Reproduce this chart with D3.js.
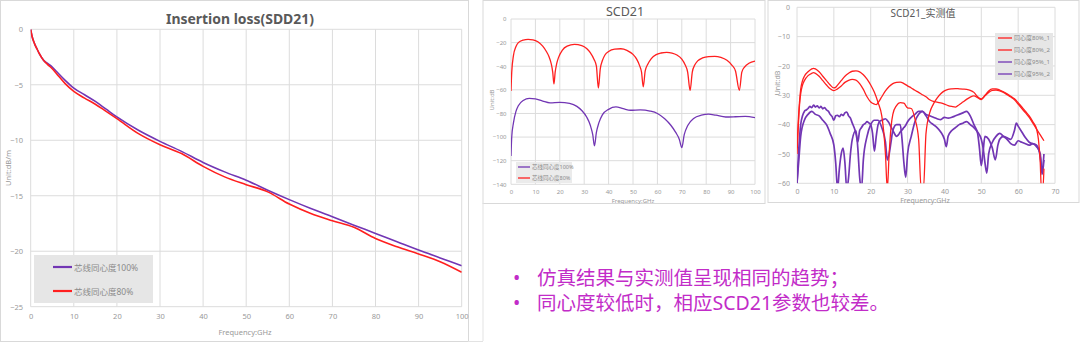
<!DOCTYPE html>
<html><head><meta charset="utf-8">
<script src="https://cdn.jsdelivr.net/npm/d3@7"></script>
<style>
html,body{margin:0;padding:0;background:#fff;}
svg{display:block;}
text{font-family:"Noto Sans","Noto Sans CJK SC",sans-serif;}
</style></head>
<body>
<svg id="c" width="1080" height="343"></svg>
<script>
// ---------- Chart 1: Insertion loss (SDD21) ----------
const sddFreq = [0,0.3,0.7,1,1.5,2,3,4,5,6,8,10,12.5,15,17.5,20,25,30,35,40,45,50,55,60,65,70,75,80,85,90,95,100];
const sdd100  = [0,-0.6,-1.1,-1.4,-1.8,-2.2,-2.8,-3.1,-3.4,-3.8,-4.6,-5.3,-5.9,-6.5,-7.2,-7.9,-9.1,-10.1,-11.0,-12.0,-12.85,-13.6,-14.5,-15.35,-16.15,-16.9,-17.65,-18.4,-19.15,-19.9,-20.6,-21.3];
const sdd80   = [0,-0.6,-1.1,-1.4,-1.8,-2.2,-2.8,-3.2,-3.55,-4.0,-4.9,-5.6,-6.2,-6.75,-7.4,-8.05,-9.4,-10.4,-11.2,-12.35,-13.3,-14.0,-14.65,-15.75,-16.6,-17.25,-17.85,-18.85,-19.6,-20.25,-20.95,-21.9];
const sddXTicks = [0,10,20,30,40,50,60,70,80,90,100];
const sddYTicks = [0,-5,-10,-15,-20,-25];
const sddNames = ["芯线同心度100%","芯线同心度80%"];

// ---------- Chart 2: SCD21 (simulation) ----------
const scd80Freq = [0,0.3,1,2,3,5,7,9,11,13,14.5,15.5,16.5,17.1,17.6,18.1,18.7,19.5,21,23,26,29,31,32.5,34,35,35.8,36.6,37.5,38.5,40,42.5,45,47.5,50,51.5,52.7,53.5,54.2,55,56,57.5,59.5,61.5,63.8,66,68,70,71.3,72.4,73.4,74.3,75.3,76.5,78.5,81,83.5,86,88.5,90.5,92,93.6,94.6,95.8,97.5,100];
const scd80Val  = [-61,-45,-31,-23.5,-20,-17.8,-17.2,-17.6,-19.3,-23,-27.5,-31.5,-38,-45,-55,-45,-38,-32.5,-26.5,-23,-21.5,-22.5,-25,-28.5,-34,-40,-58.5,-42,-35,-30.5,-27.5,-25.5,-25.2,-26.5,-30,-34,-39.5,-45,-57.5,-44,-38.5,-33.5,-30.2,-28.8,-28.2,-28.8,-30.5,-34,-38.5,-45,-60.5,-45,-39,-35.5,-33,-31.8,-31.6,-32.5,-35,-39,-44,-60.5,-45,-40.5,-37.5,-35.6];
const scd100Freq = [0,0.3,1,2,3,5,7.5,10,13,16,20,24,27,29,31,32.5,33.5,34.2,35,36,37.5,40,43,46,49,53,57,60,63,65.5,67.5,69,70,71,72.5,75,78,81,84,88,92,96,100];
const scd100Val  = [-116,-100,-88,-78.5,-73.5,-69,-67.3,-67.6,-69.5,-71,-70.6,-71.5,-74,-77.5,-83,-90,-98,-107.5,-96,-88,-81,-76.5,-74.5,-76,-77.3,-77,-78,-80,-84.5,-90,-96,-102,-109,-98,-90,-84,-81.5,-80.5,-81.5,-83,-82.8,-82.5,-83.5];
const scdXTicks = [0,10,20,30,40,50,60,70,80,90,100];
const scdYTicks = [0,-20,-40,-60,-80,-100,-120,-140];

// ---------- Chart 3: SCD21 measured ----------
const m80aFreq = [0,0.3,0.7,1,1.5,2,3,4,4.5,5,6,7,8,9,10,10.5,11,12,13,14,15,16,17,18,19,20,21,22,23,23.5,24,24.5,25,25.5,26,27,28,29,30,31,32,33,33.7,34.3,35,36,37,38,39,40,41,42,43,44,45,46,47,48,49,50,51,52,53,54,55,56,57,58,59,60,61,62,63,64,65,65.5,66,66.3,66.7,67];
const m80aVal  = [-48,-40,-32,-28,-25,-23.5,-22,-21,-20.8,-21,-22,-23.5,-25,-26.5,-27.5,-27.3,-26.5,-25,-23.5,-22.5,-21.8,-21.7,-22,-23,-24.5,-26.5,-29,-32.5,-37,-42,-50,-62,-50,-41,-36.5,-33.5,-32.5,-32.7,-34.3,-34.5,-38,-45,-62,-62,-43,-36,-33,-31,-29.5,-28.5,-28,-27.8,-27.7,-27.8,-27.9,-28,-28.3,-29,-30.5,-31.2,-30,-28.5,-27.8,-27.8,-28.2,-28.8,-29.5,-30.3,-31.2,-32.5,-34,-35.5,-37,-39,-41.5,-45,-53,-62,-62,-55];
const m80bFreq = [0,0.3,0.7,1,1.5,2,3,4,4.5,5,6,7,8,9,10,11,12,13,14,15,16,17,18,19,20,21,21.5,22,23,24,25,26,27,28,29,30,31,32,33,34,35,36,37,38,39,40,41,42,43,44,45,46,47,48,49,50,51,52,53,54,55,56,57,58,59,60,61,62,63,64,65,66,67];
const m80bVal  = [-50,-42,-33,-29.5,-26.5,-25,-23.3,-22.5,-22.3,-22.5,-23.5,-25,-26.5,-27.8,-28.4,-27.8,-26.8,-25.6,-24.9,-24.6,-24.8,-26,-28,-30.5,-32.3,-33,-33.2,-32.5,-30.5,-28.5,-27,-26,-25.6,-25.5,-26,-26.8,-27.5,-28.3,-29,-29.8,-30.5,-31.5,-32.1,-32.3,-32.6,-33,-33.5,-33.8,-34,-33.2,-32.3,-31.4,-30.6,-30.2,-30.8,-31.5,-30.2,-29,-28.3,-28.2,-28.5,-29,-29.8,-30.6,-31.5,-33,-34.5,-36,-37.5,-39.5,-41.5,-43.5,-45.5];
const m95aFreq = [0,0.5,1,1.5,2,2.5,3,3.5,4,4.5,5,5.5,6,6.5,7,7.5,8,8.5,9,9.5,10,10.5,11,11.5,12,12.5,13,13.5,14,14.5,15,15.5,16,16.5,17,17.5,18,18.5,19,19.5,20,20.5,21,21.5,22,22.5,23,23.5,24,24.5,25,25.5,26,26.5,27,27.5,28,28.5,29,29.5,30,31,32,33,34,35,36,37,38,39,40,41,42,43,44,45,46,47,48,49,49.5,50,50.5,51,52,53,53.8,54.5,55,56,57,58,59,59.5,60,61,62,63,64,65,66,66.5,67];
const m95aVal  = [-60,-48,-40,-37,-35.5,-35,-34.5,-33.8,-34.2,-33.3,-34,-33.6,-34.3,-33.8,-34.6,-34.2,-35,-35.4,-36.5,-37.2,-38.5,-37,-36.8,-37.3,-36.5,-36.9,-36,-35.7,-37,-37.8,-39.5,-41,-43,-46,-42,-41,-40,-39.6,-39,-39.4,-40,-43,-49,-44,-40,-38.8,-38.5,-38.2,-38,-38.6,-39.5,-40.8,-42,-43.2,-44,-43.5,-42.5,-41.8,-41,-40.2,-39,-37.5,-36.5,-35.5,-35.5,-36.5,-37,-37.5,-38,-38.3,-37.5,-37.8,-37.5,-37,-36.5,-36,-35.5,-37,-40,-43,-48,-54,-49,-44,-45,-48,-52,-47,-45,-44,-44.5,-45,-42,-39.5,-40.5,-42.5,-44.5,-46,-46.5,-47,-51,-56,-50];
const m95bFreq = [0,0.5,1,2,3,4,5,6,7,8,9,10,10.5,11,11.5,12,12.5,13,13.5,14,14.5,15,16,16.5,17,17.5,18,19,20,21,22,23,24,24.5,25,25.5,26,27,28,28.5,29,29.5,30,31,32,33,34,35,36,37,38,39,40,40.5,41,42,43,44,45,46,47,48,49,50,50.5,51,51.5,52,53,54,55,56,57,58,59,60,61,62,63,64,65,66,66.5,67];
const m95bVal  = [-60,-52,-44,-38.5,-36.5,-35.5,-36.5,-37,-38.5,-40,-43,-47,-53,-62,-55,-50,-48,-53,-62,-58,-50,-45,-42,-48,-58,-62,-52,-44,-40,-38.5,-38.5,-41,-46,-52,-50,-46,-42,-40,-40,-45,-53,-58,-50,-44,-39,-36.5,-35.5,-37,-39,-40,-41,-42.5,-45,-47.5,-44,-42,-41,-40,-39.5,-39,-40,-41,-42.5,-45,-48,-53,-56.5,-50,-46,-44,-43,-44,-45,-46.5,-47,-45.5,-46,-46.5,-47,-46.5,-47.5,-50,-57,-52];
const measXTicks = [0,10,20,30,40,50,60,70];
const measYTicks = [0,-10,-20,-30,-40,-50,-60];
const measNames = ["同心度80%_1","同心度80%_2","同心度95%_1","同心度95%_2"];

// ---------- Bullet text ----------
const bullets = ["仿真结果与实测值呈现相同的趋势；","同心度较低时，相应SCD21参数也较差。"];

const RED = "#ff1f1f", PURPLE = "#7236b4";
const svg = d3.select("#c");
const defs = svg.append("defs");

function drawChart(o){
  const g = svg.append("g");
  g.append("rect").attr("x",o.panel[0]).attr("y",o.panel[1]).attr("width",o.panel[2]).attr("height",o.panel[3])
    .attr("fill","#fff").attr("stroke","#d9d9d9").attr("stroke-width",1);
  const x = d3.scaleLinear().domain(o.xDom).range([o.plot[0],o.plot[1]]);
  const y = d3.scaleLinear().domain(o.yDom).range([o.plot[3],o.plot[2]]);
  g.append("g").selectAll("line").data(o.xTicks).join("line")
    .attr("x1",d=>x(d)).attr("x2",d=>x(d)).attr("y1",o.plot[2]).attr("y2",o.plot[3])
    .attr("stroke","#dcdcdc").attr("stroke-width",1);
  g.append("g").selectAll("line").data(o.yTicks).join("line")
    .attr("y1",d=>y(d)).attr("y2",d=>y(d)).attr("x1",o.plot[0]).attr("x2",o.plot[1])
    .attr("stroke","#dcdcdc").attr("stroke-width",1);
  const xa = g.append("g").attr("transform",`translate(0,${o.xLabY})`)
    .call(d3.axisBottom(x).tickValues(o.xTicks).tickSize(0).tickPadding(0).tickFormat(d3.format("d")));
  xa.select(".domain").remove();
  xa.selectAll("text").attr("font-size",o.tickFs).attr("fill","#999").attr("dy","0.32em").attr("y",0)
    .attr("font-family","Noto Sans");
  const ya = g.append("g").attr("transform",`translate(${o.yLabX},0)`)
    .call(d3.axisLeft(y).tickValues(o.yTicks).tickSize(0).tickPadding(0).tickFormat(d3.format("d")));
  ya.select(".domain").remove();
  ya.selectAll("text").attr("font-size",o.tickFs).attr("fill","#999").attr("font-family","Noto Sans");
  const t = g.append("text").attr("x",o.title[0]).attr("y",o.title[1]).attr("text-anchor","middle")
    .attr("dominant-baseline","central").attr("font-size",o.titleFs).attr("font-weight",o.titleW||"normal")
    .attr("fill","#595959").text(o.titleText);
  if(o.titleLen) t.attr("textLength",o.titleLen).attr("lengthAdjust","spacingAndGlyphs");
  g.append("text").attr("x",o.xTitle[0]).attr("y",o.xTitle[1]).attr("text-anchor","middle")
    .attr("dominant-baseline","central").attr("font-size",o.axFs).attr("fill","#999").text("Frequency:GHz");
  g.append("text").attr("transform",`translate(${o.yTitle[0]},${o.yTitle[1]}) rotate(-90)`).attr("text-anchor","middle")
    .attr("dominant-baseline","central").attr("font-size",o.axFs).attr("fill","#999").text(o.yTitleText);
  const cid = "clip"+o.id;
  defs.append("clipPath").attr("id",cid).append("rect")
    .attr("x",o.plot[0]).attr("y",o.plot[2]).attr("width",o.plot[1]-o.plot[0]).attr("height",o.plot[3]-o.plot[2]);
  const line = d3.line().x(d=>x(d[0])).y(d=>y(d[1])).curve(d3.curveMonotoneX);
  const lg = g.append("g").attr("clip-path",`url(#${cid})`);
  o.series.forEach(s=>{
    lg.append("path").datum(d3.zip(s.f,s.v)).attr("d",line).attr("fill","none")
      .attr("stroke",s.c).attr("stroke-width",s.w||o.lw).attr("stroke-linejoin","round");
  });
  const L = o.legend;
  g.append("rect").attr("x",L.box[0]).attr("y",L.box[1]).attr("width",L.box[2]).attr("height",L.box[3]).attr("fill",L.fill);
  L.items.forEach((it,i)=>{
    const yy = L.ys[i];
    g.append("line").attr("x1",L.lx[0]).attr("x2",L.lx[1]).attr("y1",yy).attr("y2",yy)
      .attr("stroke",it.c).attr("stroke-width",L.lw);
    g.append("text").attr("x",L.tx).attr("y",yy).attr("dominant-baseline","central")
      .attr("font-size",L.fs).attr("fill","#8a8a8a").attr("font-family","Noto Sans CJK SC").text(it.n);
  });
}

drawChart({id:1, panel:[0.5,0.5,468,341], plot:[30.7,461.7,29.3,306.7], xDom:[0,100], yDom:[-25,0],
  xTicks:sddXTicks, yTicks:sddYTicks, xLabY:317, yLabX:23, tickFs:7.5,
  title:[240,18], titleText:"Insertion loss(SDD21)", titleFs:15, titleW:"bold", titleLen:148,
  xTitle:[245,331.5], yTitle:[8,168], yTitleText:"Unit:dB/m", axFs:7.5, lw:1.6,
  series:[{f:sddFreq,v:sdd100,c:PURPLE},{f:sddFreq,v:sdd80,c:RED}],
  legend:{box:[34,255,119,48], fill:"#e6e6e6", lx:[53,72], tx:74, ys:[267,291], lw:2.2, fs:8.5,
    items:[{n:sddNames[0],c:PURPLE},{n:sddNames[1],c:RED}]}
});
drawChart({id:2, panel:[483,0.5,282,203], plot:[511,755,19,184.3], xDom:[0,100], yDom:[-140,0],
  xTicks:scdXTicks, yTicks:scdYTicks, xLabY:192, yLabX:506.5, tickFs:6,
  title:[625,11], titleText:"SCD21", titleFs:12.5,
  xTitle:[633,200.5], yTitle:[492,100], yTitleText:"Unit:dB", axFs:6, lw:1.3,
  series:[{f:scd80Freq,v:scd80Val,c:RED},{f:scd100Freq,v:scd100Val,c:PURPLE}],
  legend:{box:[516,162,56,21], fill:"#ebebeb", lx:[518,530], tx:532, ys:[167,178], lw:1.3, fs:5.5,
    items:[{n:sddNames[0],c:PURPLE},{n:sddNames[1],c:RED}]}
});
drawChart({id:3, panel:[768,0.5,311,202], plot:[797,1055,7.3,183.3], xDom:[0,70], yDom:[-60,0],
  xTicks:measXTicks, yTicks:measYTicks, xLabY:192, yLabX:790, tickFs:7,
  title:[923,13], titleText:"SCD21_实测值", titleFs:10,
  xTitle:[925,200], yTitle:[777,83], yTitleText:"Unit:dB", axFs:7, lw:1.3,
  series:[{f:m95aFreq,v:m95aVal,c:PURPLE,w:1.7},{f:m95bFreq,v:m95bVal,c:PURPLE,w:1.7},
          {f:m80aFreq,v:m80aVal,c:RED},{f:m80bFreq,v:m80bVal,c:RED}],
  legend:{box:[995,33,58,47], fill:"#e6e6e6", lx:[998,1012], tx:1014, ys:[38,50,62,74], lw:1.3, fs:6,
    items:[{n:measNames[0],c:RED},{n:measNames[1],c:RED},{n:measNames[2],c:PURPLE},{n:measNames[3],c:PURPLE}]}
});

svg.append("line").attr("x1",483).attr("x2",483).attr("y1",203).attr("y2",341).attr("stroke","#e3e3e3");
svg.append("line").attr("x1",468).attr("x2",483).attr("y1",341.5).attr("y2",341.5).attr("stroke","#e3e3e3");

const bg = svg.append("g");
bullets.forEach((b,i)=>{
  const yy = [285,310][i];
  bg.append("text").attr("x",513).attr("y",yy).attr("font-size",19.5).attr("fill","#c22cc8")
    .attr("font-family","Noto Sans CJK SC").text("•");
  bg.append("text").attr("x",537).attr("y",yy).attr("font-size",19.5).attr("fill","#c22cc8")
    .attr("font-family","Noto Sans CJK SC").text(b);
});
</script>
</body></html>
